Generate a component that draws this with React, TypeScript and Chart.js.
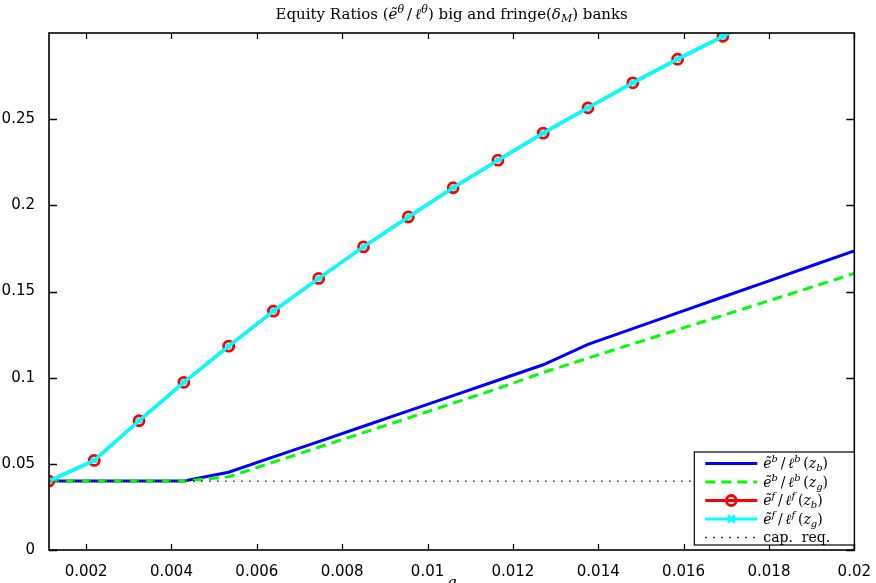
import React, { useEffect, useRef } from 'react';
import { Chart, registerables } from 'chart.js';

Chart.register(...registerables);

// q values (x axis)
const qValues = [0.00113, 0.00219, 0.00324, 0.00429, 0.00534, 0.00639, 0.00745, 0.0085, 0.00955, 0.0106,
    0.01165, 0.01271, 0.01376, 0.01481, 0.01586, 0.01692, 0.01797, 0.01902, 0.02];

// big bank equity ratio, bad / good state
const bigBad = [0.04, 0.04, 0.04, 0.04, 0.0451, 0.054, 0.0629, 0.0718, 0.0807, 0.0896,
    0.0985, 0.1075, 0.1193, 0.1285, 0.1376, 0.1468, 0.1559, 0.1651, 0.1736];
const bigGood = [0.04, 0.04, 0.04, 0.04, 0.0425, 0.051, 0.0596, 0.0681, 0.0766, 0.0852,
    0.0937, 0.103, 0.1113, 0.1196, 0.1278, 0.1361, 0.1444, 0.1527, 0.1605];

// fringe bank equity ratio, bad / good state (last points run off the top)
const fringeBad = [0.04, 0.052, 0.075, 0.0973, 0.1183, 0.1386, 0.1576, 0.1759, 0.1933, 0.2102,
    0.2262, 0.2419, 0.2566, 0.2711, 0.2848, 0.2981, 0.3111, 0.3238, 0.334];
const fringeGood = [0.04, 0.052, 0.075, 0.0973, 0.1183, 0.1386, 0.1576, 0.1759, 0.1933, 0.2102,
    0.2262, 0.2419, 0.2566, 0.2711, 0.2848, 0.2981, 0.3111, 0.3238, 0.334];

// capital requirement
const capReq = [0.04, 0.04, 0.04, 0.04, 0.04, 0.04, 0.04, 0.04, 0.04, 0.04,
    0.04, 0.04, 0.04, 0.04, 0.04, 0.04, 0.04, 0.04, 0.04];

const xTicks = [0.002, 0.004, 0.006, 0.008, 0.01, 0.012, 0.014, 0.016, 0.018, 0.02];
const yTicks = [0, 0.05, 0.1, 0.15, 0.2, 0.25];

type Seg = { t: string; it?: boolean; sup?: boolean; sub?: boolean };

const SERIF = '"DejaVu Serif", serif';

// draws text with super/subscripts on the canvas
function drawRich(ctx: CanvasRenderingContext2D, segs: Seg[], x: number, y: number, size: number, center: boolean) {
    const small = Math.round(size * 0.7);
    const fontOf = (s: Seg) => `${s.it ? 'italic ' : ''}${s.sup || s.sub ? small : size}px ${SERIF}`;
    let total = 0;
    segs.forEach(s => {
        ctx.font = fontOf(s);
        total += ctx.measureText(s.t).width;
    });
    let cx = center ? x - total / 2 : x;
    segs.forEach(s => {
        ctx.font = fontOf(s);
        const dy = s.sup ? -size * 0.4 : s.sub ? size * 0.22 : 0;
        ctx.fillText(s.t, cx, y + dy);
        cx += ctx.measureText(s.t).width;
    });
}

const ratioLabel = (who: string, state: string): Seg[] => [
    { t: 'ẽ', it: true }, { t: who, it: true, sup: true }, { t: '\u2009/\u2009' },
    { t: 'ℓ', it: true }, { t: who, it: true, sup: true }, { t: '\u2009(' },
    { t: 'z', it: true }, { t: state, it: true, sub: true }, { t: ')' },
];

const legendItems: { segs: Seg[]; color: string; width: number; dash: number[]; marker?: string }[] = [
    { segs: ratioLabel('b', 'b'), color: '#0000ff', width: 3, dash: [] },
    { segs: ratioLabel('b', 'g'), color: '#00ff00', width: 3, dash: [10, 6] },
    { segs: ratioLabel('f', 'b'), color: '#ff0000', width: 3, dash: [], marker: 'circle' },
    { segs: ratioLabel('f', 'g'), color: '#00ffff', width: 3, dash: [], marker: 'cross' },
    { segs: [{ t: 'cap.  req.' }], color: '#000000', width: 1.3, dash: [1.5, 6.5] },
];

const titleSegs: Seg[] = [
    { t: 'Equity Ratios (' }, { t: 'ẽ', it: true }, { t: 'θ', it: true, sup: true }, { t: '\u2009/\u2009' },
    { t: 'ℓ', it: true }, { t: 'θ', it: true, sup: true }, { t: ') big and fringe(' },
    { t: 'δ', it: true }, { t: 'M', it: true, sub: true }, { t: ') banks' },
];

const fmt = (v: number) => String(Number(v.toPrecision(6)));

// box, inward ticks, title and legend, matlab style
const decorPlugin = {
    id: 'decor',
    afterDraw(chart: any) {
        const { ctx, chartArea } = chart;
        const { left, right, top, bottom } = chartArea;
        const xs = chart.scales.x;
        const ys = chart.scales.y;
        ctx.save();
        ctx.strokeStyle = '#000';
        ctx.lineWidth = 1.3;
        ctx.setLineDash([]);
        ctx.beginPath();
        xTicks.forEach(v => {
            const px = Math.round(xs.getPixelForValue(v)) + 0.5;
            ctx.moveTo(px, bottom); ctx.lineTo(px, bottom - 6);
            ctx.moveTo(px, top); ctx.lineTo(px, top + 6);
        });
        yTicks.forEach(v => {
            const py = Math.round(ys.getPixelForValue(v)) + 0.5;
            ctx.moveTo(left, py); ctx.lineTo(left + 8, py);
            ctx.moveTo(right, py); ctx.lineTo(right - 8, py);
        });
        ctx.stroke();
        ctx.lineWidth = 1.6;
        ctx.strokeRect(left, top, right - left, bottom - top);

        // title
        ctx.fillStyle = '#000';
        ctx.textBaseline = 'alphabetic';
        drawRich(ctx, titleSegs, (left + right) / 2, 19, 15, true);

        // legend
        const bw = 160, bh = 93;
        const bx = right - bw, by = bottom - 5 - bh;
        ctx.fillStyle = '#fff';
        ctx.fillRect(bx, by, bw, bh);
        ctx.lineWidth = 1.2;
        ctx.strokeRect(bx, by, bw, bh);
        legendItems.forEach((it, i) => {
            const cy = by + 11.5 + i * 18.5;
            const x0 = bx + 11, x1 = bx + 63;
            ctx.strokeStyle = it.color;
            ctx.lineWidth = it.width;
            ctx.setLineDash(it.dash);
            ctx.beginPath();
            ctx.moveTo(x0, cy); ctx.lineTo(x1, cy);
            ctx.stroke();
            ctx.setLineDash([]);
            const mx = (x0 + x1) / 2;
            if (it.marker === 'circle') {
                ctx.lineWidth = 2.8;
                ctx.beginPath();
                ctx.arc(mx, cy, 5, 0, Math.PI * 2);
                ctx.stroke();
            } else if (it.marker === 'cross') {
                ctx.lineWidth = 2.5;
                ctx.beginPath();
                ctx.moveTo(mx - 3.5, cy - 3.5); ctx.lineTo(mx + 3.5, cy + 3.5);
                ctx.moveTo(mx - 3.5, cy + 3.5); ctx.lineTo(mx + 3.5, cy - 3.5);
                ctx.stroke();
            }
            ctx.fillStyle = '#000';
            drawRich(ctx, it.segs, bx + 69, cy + 4.5, 14, false);
        });
        ctx.restore();
    },
};

const App: React.FC = () => {
    const canvasRef = useRef<HTMLCanvasElement>(null);
    const chartRef = useRef<Chart>();

    useEffect(() => {
        if (!canvasRef.current) return;
        const ctx = canvasRef.current.getContext('2d');
        if (!ctx) return;
        if (chartRef.current) chartRef.current.destroy();

        const pts = (ys: number[]) => qValues.map((q, i) => ({ x: q, y: ys[i] }));
        const tickFont = { family: '"DejaVu Sans", sans-serif', size: 15 };

        chartRef.current = new Chart(ctx, {
            type: 'line',
            data: {
                datasets: [
                    {
                        label: 'big z_b', data: pts(bigBad), borderColor: '#0000ff', borderWidth: 3,
                        pointRadius: 0, order: 5,
                    },
                    {
                        label: 'big z_g', data: pts(bigGood), borderColor: '#00ff00', borderWidth: 3,
                        borderDash: [10, 6], pointRadius: 0, order: 4,
                    },
                    {
                        label: 'fringe z_b', data: pts(fringeBad), borderColor: '#ff0000', borderWidth: 3,
                        pointStyle: 'circle', pointRadius: 5, pointBorderWidth: 2.8,
                        pointBackgroundColor: 'rgba(0,0,0,0)', pointBorderColor: '#ff0000', order: 3,
                    },
                    {
                        label: 'fringe z_g', data: pts(fringeGood), borderColor: '#00ffff', borderWidth: 3.6,
                        pointStyle: 'crossRot', pointRadius: 3.5, pointBorderWidth: 2.5,
                        pointBorderColor: '#00ffff', order: 2,
                    },
                    {
                        label: 'cap. req.', data: pts(capReq), borderColor: '#000000', borderWidth: 1.3,
                        borderDash: [1.5, 6.5], pointRadius: 0, order: 1,
                    },
                ],
            },
            options: {
                animation: false,
                responsive: true,
                maintainAspectRatio: false,
                layout: { padding: { top: 33, right: 19.5, left: 0, bottom: 0 } },
                plugins: { legend: { display: false }, tooltip: { enabled: false }, title: { display: false } },
                scales: {
                    x: {
                        type: 'linear',
                        min: qValues[0],
                        max: 0.02,
                        grid: { display: false },
                        border: { display: false },
                        afterBuildTicks: (scale: any) => { scale.ticks = xTicks.map(v => ({ value: v })); },
                        afterFit: (scale: any) => { scale.height = 33; },
                        ticks: {
                            color: '#000', font: tickFont, padding: 5, maxRotation: 0, autoSkip: false,
                            callback: (v: any) => fmt(Number(v)),
                        },
                        title: {
                            display: true, text: 'q', color: '#000',
                            font: { family: SERIF, style: 'italic', size: 16 },
                            padding: { top: 0, bottom: -10 },
                        },
                    },
                    y: {
                        type: 'linear',
                        min: 0,
                        max: 0.3,
                        grid: { display: false },
                        border: { display: false },
                        afterBuildTicks: (scale: any) => { scale.ticks = yTicks.map(v => ({ value: v })); },
                        afterFit: (scale: any) => { scale.width = 49; },
                        ticks: {
                            color: '#000', font: tickFont, padding: 6,
                            callback: (v: any) => fmt(Number(v)),
                        },
                    },
                },
            } as any,
            plugins: [decorPlugin],
        });

        return () => {
            if (chartRef.current) {
                chartRef.current.destroy();
                chartRef.current = undefined;
            }
        };
    }, []);

    return (
        <div style={{ position: 'absolute', left: 0, top: 0, width: 876, height: 583, background: '#fff' }}>
            <canvas ref={canvasRef}></canvas>
        </div>
    );
};

export default App;
